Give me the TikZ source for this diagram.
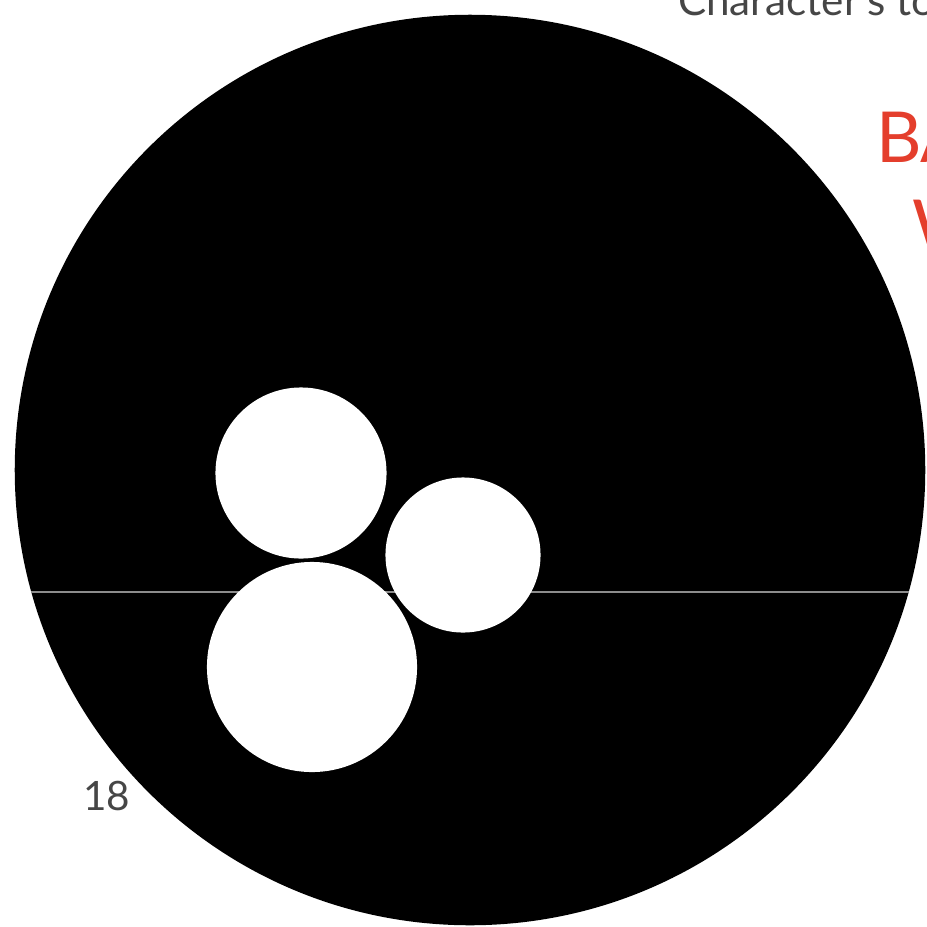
\documentclass[tikz,border=0pt]{standalone}
\usepackage{fontspec}
\setmainfont{Lato}
\usepackage{xcolor}
\usepackage{tikz}
\usetikzlibrary{positioning, calc}
\definecolor{inkred}{RGB}{228,62,44}
\definecolor{inkgray}{RGB}{70,70,70}

\begin{document}
\begin{tikzpicture}[x=0.01cm, y=-0.01cm, every node/.style={inner sep=0pt, outer sep=0pt}]
  % Page frame
  \useasboundingbox (0,0) rectangle (926,927);
  \clip (0,0) rectangle (926,927);
  \fill[white] (0,0) rectangle (926,927);
  % Outer black disc
  \fill[black] (470,470) circle[radius=4.55cm];
  % Faint horizontal line across the disc
  \coordinate (lineL) at (31,592);
  \coordinate (lineR) at (909,592);
  \draw[black!45, line width=0.8pt] (lineL) -- (lineR);
  % White holes
  \fill[white] (301,473) circle[radius=0.855cm];
  \fill[white] (463,555) circle[radius=0.775cm];
  \fill[white] (312,667) circle[radius=1.05cm];
  % Texts
  \node[inkgray, font=\fontsize{12pt}{13pt}\selectfont, anchor=base west] (title) at (678,15) {Character's to};
  \node[inkred, font=\fontsize{20pt}{22pt}\selectfont, anchor=base west] (redA) at (876,162) {BA};
  \node[inkred, font=\fontsize{20pt}{22pt}\selectfont, anchor=base west] (redB) at (912,250) {W};
  \node[inkgray, font=\fontsize{11.5pt}{13pt}\selectfont, anchor=base west] (page) at (83,810) {18};
\end{tikzpicture}
\end{document}
